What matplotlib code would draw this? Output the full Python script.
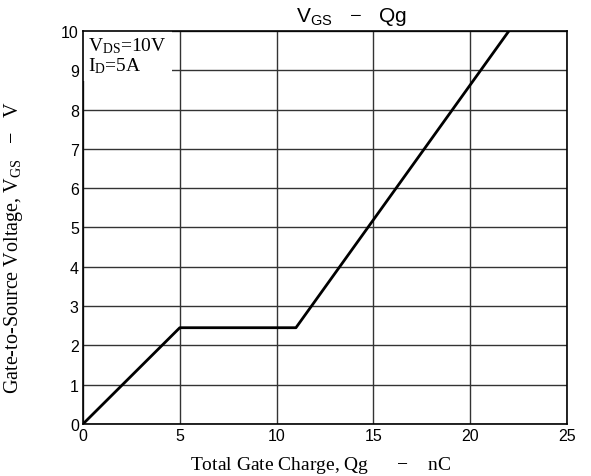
import matplotlib.pyplot as plt
import numpy as np

plt.rcParams['mathtext.fontset'] = 'custom'
plt.rcParams['mathtext.rm'] = 'Liberation Serif'
plt.rcParams['mathtext.sf'] = 'Liberation Sans'

# gate charge curve vertices
qg = [0, 5, 11, 22]
vgs = [0, 2.45, 2.45, 10]

xticks = [0, 5, 10, 15, 20, 25]
yticks = list(range(0, 11))

fig = plt.figure(figsize=(5.91, 4.77), dpi=100)
ax = fig.add_axes([0.1404, 0.109, 0.819, 0.824])

ax.plot(qg, vgs, color='black', lw=2, zorder=3)

ax.set_xlim(0, 25)
ax.set_ylim(0, 10)
ax.set_xticks(xticks)
ax.set_yticks(yticks)
ax.tick_params(length=0, labelsize=11.5, pad=3)
for lab in ax.get_xticklabels() + ax.get_yticklabels():
    lab.set_family('Liberation Sans')
ax.grid(True, color='#333333', lw=1)
for s in ax.spines.values():
    s.set_linewidth(1.2)
    s.set_zorder(4)

fig.text(0.543, 0.025, 'Total Gate Charge, Qg      $-$    nC', family='Liberation Serif',
         fontsize=14, ha='center', va='center')
fig.text(0.022, 0.48, r'Gate-to-Source Voltage, $\mathrm{V_{GS}}$   $-$   V', family='Liberation Serif',
         fontsize=14.5, ha='center', va='center', rotation=90)

ax.text(0.25, 9.88, r'$\mathrm{V_{DS}}$=10V' + '\n' + r'$\mathrm{I_D}$=5A', family='Liberation Serif',
        fontsize=14, va='top', ha='left', linespacing=1.0,
        bbox=dict(facecolor='white', edgecolor='none', pad=4), zorder=2)

fig.text(0.594, 0.965, r'$\mathsf{V_{GS}}$   $-$   Qg', family='Liberation Sans', fontsize=15, ha='center', va='center')

fig.savefig('out.png', dpi=100)
